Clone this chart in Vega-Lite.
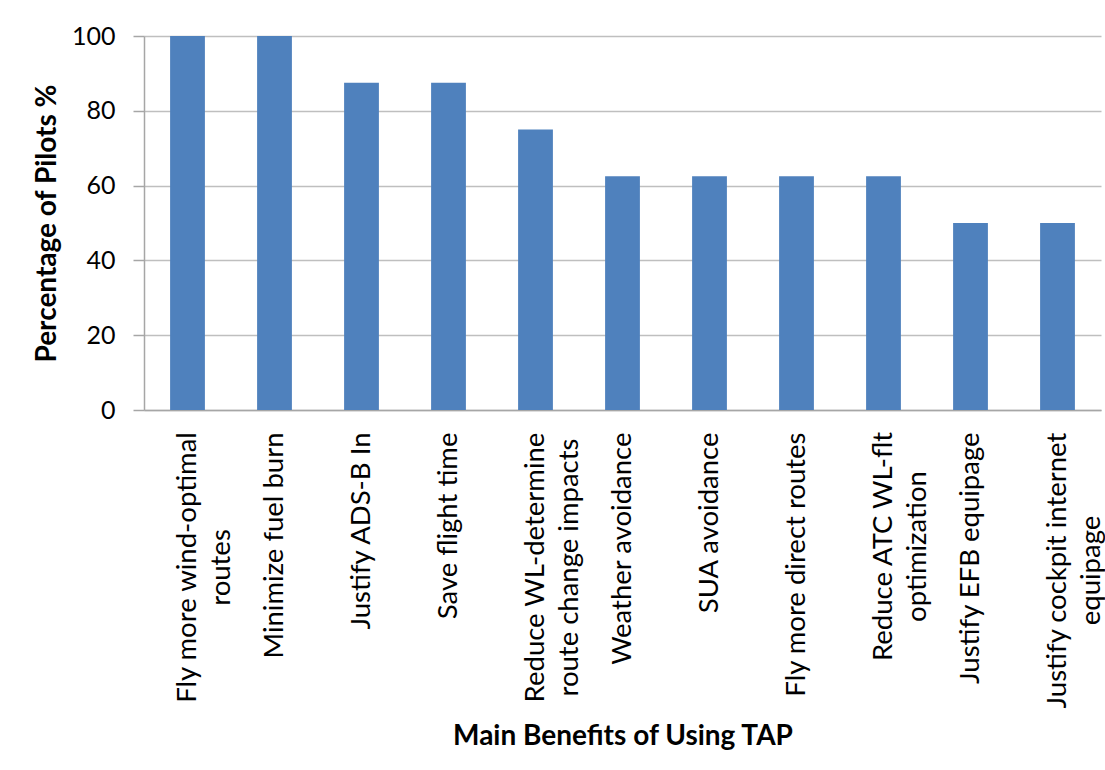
{
  "$schema": "https://vega.github.io/schema/vega-lite/v6.json",
  "autosize": "none",
  "width": 957,
  "height": 374,
  "padding": {"left": 144, "top": 36, "right": 4, "bottom": 360},
  "background": "white",
  "config": {
    "view": {"stroke": null},
    "font": "Lato"
  },
  "data": {
    "values": [
      {"benefit": "Fly more wind-optimal routes", "pct": 100},
      {"benefit": "Minimize fuel burn", "pct": 100},
      {"benefit": "Justify ADS-B In", "pct": 87.5},
      {"benefit": "Save flight time", "pct": 87.5},
      {"benefit": "Reduce WL-determine route change impacts", "pct": 75},
      {"benefit": "Weather avoidance", "pct": 62.5},
      {"benefit": "SUA avoidance", "pct": 62.5},
      {"benefit": "Fly more direct routes", "pct": 62.5},
      {"benefit": "Reduce ATC WL-flt optimization", "pct": 62.5},
      {"benefit": "Justify EFB equipage", "pct": 50},
      {"benefit": "Justify cockpit internet equipage", "pct": 50}
    ]
  },
  "mark": {"type": "bar", "color": "#4F81BD", "width": {"band": 0.4}},
  "encoding": {
    "x": {
      "field": "benefit",
      "type": "nominal",
      "sort": null,
      "scale": {"paddingInner": 0, "paddingOuter": 0},
      "axis": {
        "title": "Main Benefits of Using TAP",
        "titleFont": "Lato",
        "titleFontSize": 28,
        "titleFontWeight": "bold",
        "titleColor": "black",
        "titlePadding": 112,
        "labelAngle": -90,
        "labelAlign": {
          "condition": {
            "test": "indexof(['Fly more wind-optimal routes', 'Reduce WL-determine route change impacts', 'Reduce ATC WL-flt optimization', 'Justify cockpit internet equipage'], datum.value) >= 0",
            "value": "center"
          },
          "value": "right"
        },
        "labelPadding": {
          "condition": [
            {"test": "datum.value == 'Fly more wind-optimal routes'", "value": 157},
            {"test": "datum.value == 'Reduce WL-determine route change impacts'", "value": 157},
            {"test": "datum.value == 'Reduce ATC WL-flt optimization'", "value": 136},
            {"test": "datum.value == 'Justify cockpit internet equipage'", "value": 160}
          ],
          "value": 22
        },
        "labelBaseline": "middle",
        "labelFont": "Lato",
        "labelFontSize": 27.5,
        "labelColor": "black",
        "labelLineHeight": 34,
        "labelLimit": 0,
        "labelExpr": "datum.value == 'Fly more wind-optimal routes' ? ['Fly more wind-optimal', 'routes'] : datum.value == 'Reduce WL-determine route change impacts' ? ['Reduce WL-determine', 'route change impacts'] : datum.value == 'Reduce ATC WL-flt optimization' ? ['Reduce ATC WL-flt', 'optimization'] : datum.value == 'Justify cockpit internet equipage' ? ['Justify cockpit internet', 'equipage'] : datum.value",
        "ticks": false,
        "domainColor": "#A6A6A6",
        "domainWidth": 1.5
      }
    },
    "y": {
      "field": "pct",
      "type": "quantitative",
      "scale": {"domain": [0, 100]},
      "axis": {
        "title": "Percentage of Pilots %",
        "titleFont": "Lato",
        "titleFontSize": 28,
        "titleFontWeight": "bold",
        "titleColor": "black",
        "titlePadding": 10,
        "values": [0, 20, 40, 60, 80, 100],
        "labelFont": "Lato",
        "labelFontSize": 25,
        "labelColor": "black",
        "labelPadding": 18,
        "tickSize": 11,
        "tickColor": "#A6A6A6",
        "tickWidth": 1.5,
        "domainColor": "#A6A6A6",
        "domainWidth": 1.5,
        "gridColor": "#BFBFBF",
        "gridWidth": 1.5
      }
    }
  }
}
